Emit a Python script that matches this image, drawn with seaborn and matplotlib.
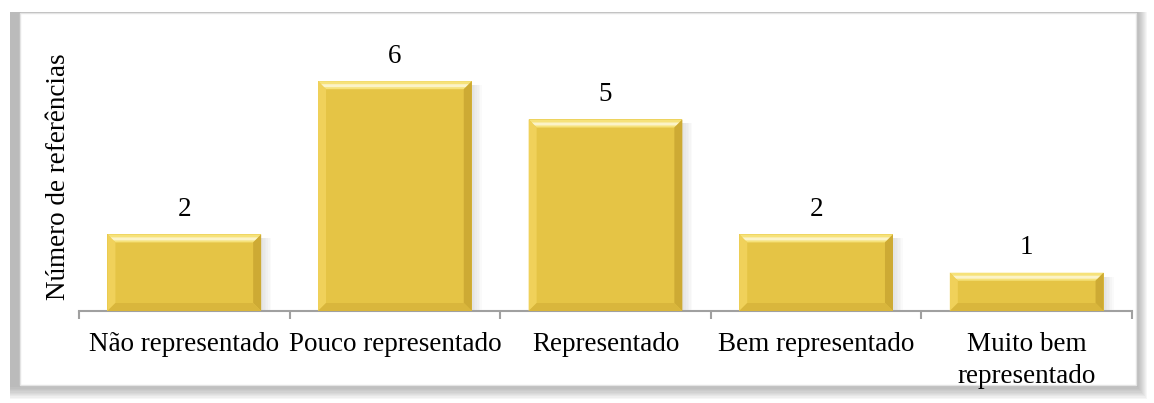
import matplotlib
matplotlib.use("Agg")
import matplotlib.pyplot as plt
from matplotlib.patches import Rectangle, Polygon
import seaborn as sns
import pandas as pd

categories = ["Não representado", "Pouco representado", "Representado",
              "Bem representado", "Muito bem\nrepresentado"]
counts = [2, 6, 5, 2, 1]
y_label = "Número de referências"

sns.set_theme(style="white")
plt.rcParams["font.family"] = ["Liberation Serif", "DejaVu Serif"]
plt.rcParams["text.color"] = "black"
plt.rcParams["axes.labelcolor"] = "black"
plt.rcParams["xtick.color"] = "black"

W, H, DPI = 1154, 403, 100
fig = plt.figure(figsize=(W / DPI, H / DPI), dpi=DPI)


def px(x0, y0, x1, y1):
    """Figure-fraction rectangle from pixel corners (top-left origin)."""
    return (x0 / W, 1 - y1 / H, (x1 - x0) / W, (y1 - y0) / H)


# chart frame with soft shadow on left, right and bottom
for i in range(10):
    x, y, w, h = px(10, 12, 1147 - i * 1.0, 399 - i * 1.3)
    fig.patches.append(Rectangle((x, y), w, h, transform=fig.transFigure,
                                 facecolor="#707070", alpha=0.06, edgecolor="none", zorder=0))
x, y, w, h = px(20, 13, 1136, 385)
fig.patches.append(Rectangle((x, y), w, h, transform=fig.transFigure,
                             facecolor="white", edgecolor="#e4e4e4", linewidth=1, zorder=1))

ax = fig.add_axes(px(79, 311 - 7 * 38.3, 1132, 311))
ax.set_zorder(2)
ax.patch.set_alpha(0)

df = pd.DataFrame({"categoria": categories, "n": counts})
sns.barplot(data=df, x="categoria", y="n", ax=ax, color="#E5C445",
            saturation=1, width=0.73, edgecolor="none", zorder=3)

ax.set_xlim(-0.5, len(categories) - 0.5)
ax.set_ylim(0, 7)
ax.set_yticks([])
ax.set_xlabel("")
ax.set_ylabel(y_label, fontsize=19.5, labelpad=6)
for s in ["top", "right", "left"]:
    ax.spines[s].set_visible(False)
ax.spines["bottom"].set_color("#a0a0a0")
ax.spines["bottom"].set_linewidth(1.5)

ax.set_xticks(range(len(categories)))
ax.set_xticklabels(categories, fontsize=19.5, linespacing=1.4)
ax.tick_params(axis="x", which="major", length=0, pad=15)
ax.set_xticks([i - 0.5 for i in range(len(categories) + 1)], minor=True)
ax.tick_params(axis="x", which="minor", length=6, width=1.5, color="#a0a0a0",
               direction="out", bottom=True)

for p, v in zip(ax.patches, counts):
    ax.annotate(f"{v}", (p.get_x() + p.get_width() / 2, p.get_height()),
                xytext=(0, 9), textcoords="offset points",
                ha="center", va="bottom", fontsize=19.5)

# bevel and shadow on each bar, built from the bar geometry
fig.canvas.draw()
inv = fig.transFigure.inverted()
for p in list(ax.patches):
    bb = p.get_window_extent()
    x0, y0, x1, y1 = bb.x0, bb.y0, bb.x1, bb.y1
    b = 8

    def poly(pts, color, alpha=1.0, z=4):
        pts_f = inv.transform(pts)
        fig.patches.append(Polygon(pts_f, closed=True, transform=fig.transFigure,
                                   facecolor=color, edgecolor="none", alpha=alpha,
                                   zorder=z))
    # shadow to the right
    for k in range(6):
        poly([(x1, y0), (x1 + 2 + k * 1.6, y0), (x1 + 2 + k * 1.6, y1 - 4), (x1, y1 - 4)],
             "#808080", alpha=0.035, z=1.5)
    # top highlight
    poly([(x0, y1), (x1, y1), (x1 - b, y1 - b), (x0 + b, y1 - b)], "#F6E27A")
    poly([(x0 + 3, y1 - 3), (x1 - 3, y1 - 3), (x1 - 6, y1 - 6), (x0 + 6, y1 - 6)], "#FBF3C8")
    # left edge
    poly([(x0, y1), (x0 + b, y1 - b), (x0 + b, y0 + b), (x0, y0)], "#F0D15A")
    # right edge
    poly([(x1, y1), (x1 - b, y1 - b), (x1 - b, y0 + b), (x1, y0)], "#CDAA34")
    # bottom edge
    poly([(x0, y0), (x0 + b, y0 + b), (x1 - b, y0 + b), (x1, y0)], "#D9B63C")

fig.savefig("out.png", dpi=DPI)
